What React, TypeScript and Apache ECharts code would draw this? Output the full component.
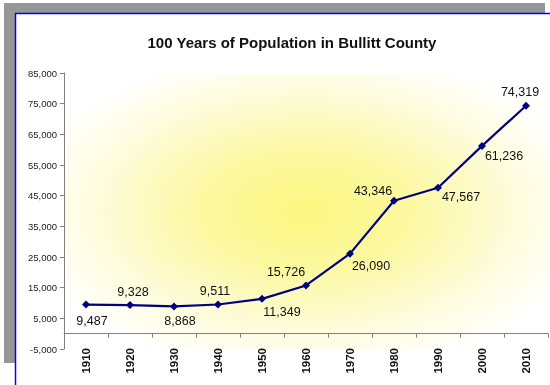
import React, { useEffect, useRef } from "react";
import * as echarts from "echarts";

const years = ["1910", "1920", "1930", "1940", "1950", "1960", "1970", "1980", "1990", "2000", "2010"];
const population = [9487, 9328, 8868, 9511, 11349, 15726, 26090, 43346, 47567, 61236, 74319];
const yTicks = [-5000, 5000, 15000, 25000, 35000, 45000, 55000, 65000, 75000, 85000];
// label placement (dx, dy) relative to each point, in px
const labelDx = [6, 3, 6, -3, 20, -20, 21, -21, 23, 22, -6];
const labelDy = [16, -13, 15, -13, 13, -13, 12, -10, 9, 10, -14];

const FONT = 'Arial, "Liberation Sans", sans-serif';
const fmt = (v: number) => v.toLocaleString("en-US");

export default function App() {
  const ref = useRef<HTMLDivElement>(null);
  useEffect(() => {
    if (!ref.current) return;
    const chart = echarts.init(ref.current, undefined, { renderer: "svg" });
    const symbolSize = 8;
    chart.setOption({
      animation: false,
      textStyle: { fontFamily: FONT },
      graphic: [
        {
          type: "rect",
          z: -20,
          silent: true,
          shape: { x: 4, y: 3, width: 541, height: 360 },
          style: { fill: "#969696" },
        },
        {
          type: "rect",
          z: -19,
          silent: true,
          shape: { x: 15.5, y: 13.5, width: 600, height: 420 },
          style: { fill: "#ffffff", stroke: "#0000ff", lineWidth: 1.5 },
        },
      ],
      title: {
        text: "100 Years of Population in Bullitt County",
        left: 287,
        top: 30,
        textAlign: "center",
        textStyle: { fontFamily: FONT, fontSize: 15, fontWeight: "bold", color: "#111" },
      },
      grid: {
        left: 64,
        right: 2,
        top: 73,
        bottom: 36,
        outerBoundsMode: "none",
        containLabel: false,
        show: true,
        borderWidth: 0,
        backgroundColor: new echarts.graphic.RadialGradient(0.5, 0.5, 0.7, [
          { offset: 0, color: "#fbf67e" },
          { offset: 0.3, color: "#fcf8a0" },
          { offset: 0.62, color: "#fefcdc" },
          { offset: 0.85, color: "#ffffff" },
          { offset: 1, color: "#ffffff" },
        ]),
      },
      xAxis: {
        type: "category",
        data: years,
        boundaryGap: true,
        axisLine: { onZero: true, lineStyle: { color: "#808080", width: 1 } },
        axisTick: { show: true, length: 4, alignWithLabel: false, lineStyle: { color: "#808080" } },
        axisLabel: {
          interval: 0,
          rotate: 90,
          margin: -1,
          fontSize: 11.5,
          fontWeight: "bold",
          color: "#111",
          fontFamily: FONT,
        },
        splitLine: { show: false },
      },
      yAxis: {
        type: "value",
        min: -5000,
        max: 85000,
        axisLine: { show: true, lineStyle: { color: "#808080", width: 1 } },
        axisTick: { show: true, length: 4, customValues: yTicks, lineStyle: { color: "#808080" } },
        axisLabel: {
          customValues: yTicks,
          formatter: (v: number) => fmt(v),
          fontSize: 9.5,
          color: "#222",
          margin: 7,
          fontFamily: FONT,
        },
        splitLine: { show: false },
      },
      series: [
        {
          type: "line",
          data: population.map((v, i) => ({
            value: v,
            label: {
              position: [symbolSize / 2 + labelDx[i], symbolSize / 2 + labelDy[i]],
            },
          })),
          symbol: "diamond",
          symbolSize,
          lineStyle: { color: "#000080", width: 2.2 },
          itemStyle: { color: "#000080" },
          label: {
            show: true,
            formatter: (p: any) => fmt(p.value),
            align: "center",
            verticalAlign: "middle",
            fontSize: 12.5,
            color: "#111",
            fontFamily: FONT,
          },
        },
      ],
    });
    return () => chart.dispose();
  }, []);
  return (
    <div
      ref={ref}
      style={{ position: "fixed", left: 0, top: 0, width: 550, height: 385 }}
    />
  );
}
